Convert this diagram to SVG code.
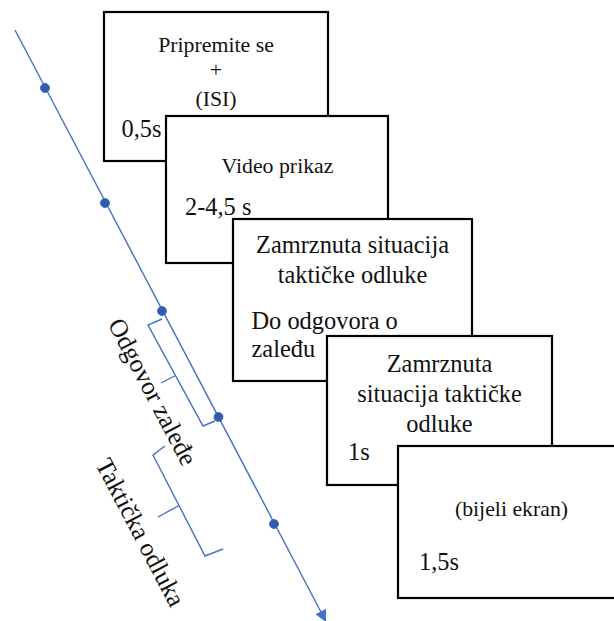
<svg xmlns="http://www.w3.org/2000/svg" width="614" height="621" viewBox="0 0 614 621">
<style>
text{font-family:'Liberation Serif',serif;fill:#111}
.box{fill:#fff;stroke:#000;stroke-width:2.2}
.c{text-anchor:middle}
.s{font-size:21.8px}
.m{font-size:24.4px}
.r{font-size:25.5px}
.tl{stroke:#4472C4;stroke-width:1.4;fill:none}
.dot{fill:#2F5BAF;stroke:#4472C4;stroke-width:1}
.br{stroke:#4472C4;stroke-width:1.4;fill:none}
</style>
<rect width="614" height="621" fill="#fff"/>
<g id="connectors">
<line class="tl" x1="15" y1="30" x2="321" y2="612"/>
<polygon points="326,622 326.1,608.7 315.5,614.3" fill="#4472C4"/>
<circle class="dot" cx="45" cy="88" r="4.5"/>
<circle class="dot" cx="105" cy="203" r="4.5"/>
<circle class="dot" cx="162" cy="311" r="4.5"/>
<circle class="dot" cx="218.5" cy="417" r="4.5"/>
<circle class="dot" cx="274" cy="524" r="4.5"/>
<path class="br" d="M162,319 L148,325 L203,426 L215,421 M175.5,375.5 L161,383"/>
<path class="br" d="M165,446 L153,455 L205,556 L223,549 M179,505.5 L158,517"/>
</g>
<g id="label-odgovor">
<text class="r" transform="translate(107.5,324) rotate(62.3)">Odgovor zaleđe</text>
</g>
<g id="label-takticka">
<text class="r" transform="translate(95,464) rotate(62.3)">Taktička odluka</text>
</g>
<g id="box1">
<rect class="box" x="104" y="12" width="224" height="149"/>
<text class="c s" x="216" y="51.5">Pripremite se</text>
<text class="c s" x="216" y="77">+</text>
<text class="c s" x="216" y="106">(ISI)</text>
<text class="m" x="121.5" y="137">0,5s</text>
</g>
<g id="box2">
<rect class="box" x="166" y="116" width="222" height="147"/>
<text class="c s" x="277.5" y="173">Video prikaz</text>
<text class="m" x="185" y="215">2-4,5 s</text>
</g>
<g id="box3">
<rect class="box" x="233" y="219" width="239" height="162"/>
<text class="c m" x="352.5" y="252.5">Zamrznuta situacija</text>
<text class="c m" x="352.5" y="282.5">taktičke odluke</text>
<text class="m" x="251.5" y="328.5">Do odgovora o</text>
<text class="m" x="251.5" y="357">zaleđu</text>
</g>
<g id="box4">
<rect class="box" x="327" y="336" width="225" height="149"/>
<text class="c m" x="439.5" y="372">Zamrznuta</text>
<text class="c m" x="439.5" y="402">situacija taktičke</text>
<text class="c m" x="439.5" y="432">odluke</text>
<text class="m" x="348" y="460">1s</text>
</g>
<g id="box5">
<rect class="box" x="398" y="446" width="227" height="152"/>
<text class="c s" x="511.5" y="516">(bijeli ekran)</text>
<text class="m" x="419" y="570">1,5s</text>
</g>
</svg>
